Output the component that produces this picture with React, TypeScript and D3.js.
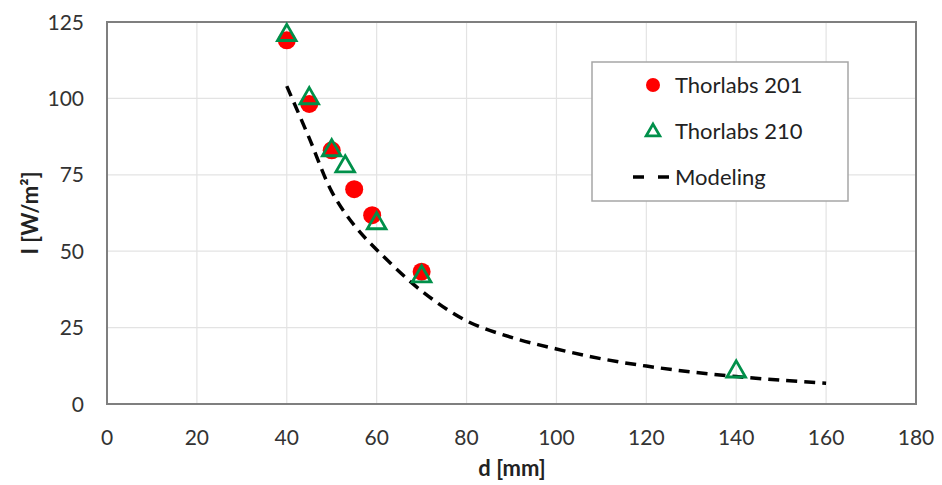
import React, { useRef, useEffect } from "react";
import * as d3 from "d3";

// Thorlabs 201 (red circles)
const t201D = [40, 45, 50, 55, 59, 70];
const t201I = [119, 98.2, 83, 70.3, 61.8, 43.3];

// Thorlabs 210 (green triangles)
const t210D = [40, 45, 50, 53, 60, 70, 140];
const t210I = [120.7, 100, 83, 77.7, 59.1, 41.7, 10.6];

// Modeling (dashed curve)
const modelD = [40, 45, 50, 55, 60, 70, 80, 90, 100, 110, 120, 130, 140, 150, 160];
const modelI = [104, 87, 69.5, 58.5, 50.5, 37, 27.2, 21.8, 18, 14.8, 12.4, 10.5, 9, 7.8, 6.8];

const xTicks = [0, 20, 40, 60, 80, 100, 120, 140, 160, 180];
const yTicks = [0, 25, 50, 75, 100, 125];

const legendItems = ["Thorlabs 201", "Thorlabs 210", "Modeling"];

const W = 942;
const H = 485;
const FONT = "Lato, 'Open Sans', sans-serif";
const RED = "#ff0000";
const GREEN = "#00904a";

const App = () => {
  const ref = useRef<SVGSVGElement | null>(null);

  useEffect(() => {
    if (!ref.current) return;
    const svg = d3.select(ref.current);
    svg.selectAll("*").remove();

    const x = d3.scaleLinear().domain([0, 180]).range([107, 916]);
    const y = d3.scaleLinear().domain([0, 125]).range([404, 22]);

    // grid
    svg
      .append("g")
      .selectAll("line")
      .data(xTicks.slice(1, -1))
      .enter()
      .append("line")
      .attr("x1", (d) => x(d))
      .attr("x2", (d) => x(d))
      .attr("y1", y(0))
      .attr("y2", y(125))
      .attr("stroke", "#e3e3e3")
      .attr("stroke-width", 1.2);

    svg
      .append("g")
      .selectAll("line")
      .data(yTicks.slice(1, -1))
      .enter()
      .append("line")
      .attr("x1", x(0))
      .attr("x2", x(180))
      .attr("y1", (d) => y(d))
      .attr("y2", (d) => y(d))
      .attr("stroke", "#e3e3e3")
      .attr("stroke-width", 1.2);

    // plot border
    svg
      .append("rect")
      .attr("x", x(0))
      .attr("y", y(125))
      .attr("width", x(180) - x(0))
      .attr("height", y(0) - y(125))
      .attr("fill", "none")
      .attr("stroke", "#7f7f7f")
      .attr("stroke-width", 2);

    // tick labels
    svg
      .append("g")
      .selectAll("text")
      .data(xTicks)
      .enter()
      .append("text")
      .attr("x", (d) => x(d))
      .attr("y", 445)
      .attr("text-anchor", "middle")
      .style("font-family", FONT)
      .style("font-size", "21px")
      .attr("fill", "#333")
      .text((d) => d);

    svg
      .append("g")
      .selectAll("text")
      .data(yTicks)
      .enter()
      .append("text")
      .attr("x", 84)
      .attr("y", (d) => y(d))
      .attr("dy", "0.36em")
      .attr("text-anchor", "end")
      .style("font-family", FONT)
      .style("font-size", "21px")
      .attr("fill", "#333")
      .text((d) => d);

    // axis titles
    svg
      .append("text")
      .attr("x", 512)
      .attr("y", 476)
      .attr("text-anchor", "middle")
      .style("font-family", FONT)
      .style("font-size", "22px")
      .style("font-weight", "bold")
      .attr("fill", "#222")
      .text("d [mm]");

    svg
      .append("text")
      .attr("transform", "translate(38,213) rotate(-90)")
      .attr("text-anchor", "middle")
      .style("font-family", FONT)
      .style("font-size", "22px")
      .style("font-weight", "bold")
      .attr("fill", "#222")
      .text("I [W/m²]");

    // modeling curve
    const line = d3
      .line<number>()
      .x((d) => x(d))
      .y((d, i) => y(modelI[i]))
      .curve(d3.curveCatmullRom);

    svg
      .append("path")
      .attr("d", line(modelD))
      .attr("fill", "none")
      .attr("stroke", "#000")
      .attr("stroke-width", 3.5)
      .attr("stroke-dasharray", "11,7");

    // Thorlabs 201
    svg
      .append("g")
      .selectAll("circle")
      .data(t201D)
      .enter()
      .append("circle")
      .attr("cx", (d) => x(d))
      .attr("cy", (d, i) => y(t201I[i]))
      .attr("r", 9)
      .attr("fill", RED);

    // Thorlabs 210
    const tri = d3.symbol().type(d3.symbolTriangle).size(150);
    svg
      .append("g")
      .selectAll("path")
      .data(t210D)
      .enter()
      .append("path")
      .attr("d", tri)
      .attr("transform", (d, i) => `translate(${x(d)},${y(t210I[i])})`)
      .attr("fill", "none")
      .attr("stroke", GREEN)
      .attr("stroke-width", 2.8);

    // legend
    const lg = svg.append("g");
    lg.append("rect")
      .attr("x", 592)
      .attr("y", 62)
      .attr("width", 256)
      .attr("height", 139)
      .attr("fill", "#fff")
      .attr("stroke", "#a6a6a6")
      .attr("stroke-width", 1.5);

    const rowY = [85, 131, 177];
    lg.selectAll("text")
      .data(legendItems)
      .enter()
      .append("text")
      .attr("x", 675)
      .attr("y", (d, i) => rowY[i])
      .attr("dy", "0.36em")
      .style("font-family", FONT)
      .style("font-size", "22px")
      .attr("fill", "#222")
      .text((d) => d);

    lg.append("circle").attr("cx", 653).attr("cy", rowY[0]).attr("r", 7).attr("fill", RED);
    lg.append("path")
      .attr("d", d3.symbol().type(d3.symbolTriangle).size(80)())
      .attr("transform", `translate(653,${rowY[1] + 1})`)
      .attr("fill", "none")
      .attr("stroke", GREEN)
      .attr("stroke-width", 2.8);
    lg.append("line")
      .attr("x1", 633)
      .attr("x2", 669)
      .attr("y1", rowY[2])
      .attr("y2", rowY[2])
      .attr("stroke", "#000")
      .attr("stroke-width", 3.5)
      .attr("stroke-dasharray", "11,14");
  }, []);

  return (
    <div style={{ position: "absolute", left: 0, top: 0 }}>
      <svg ref={ref} width={W} height={H} style={{ display: "block", background: "#fff" }} />
    </div>
  );
};

export default App;
